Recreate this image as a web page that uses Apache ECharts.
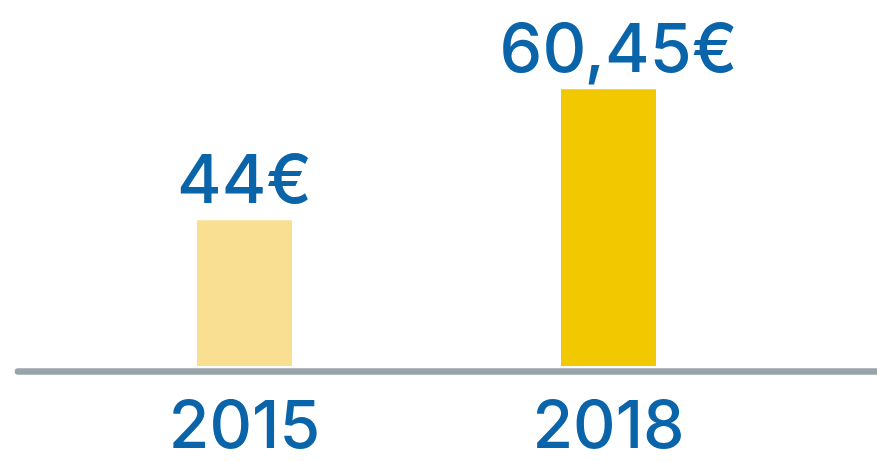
<!DOCTYPE html>
<html>
<head>
<meta charset="utf-8">
<script src="https://cdn.jsdelivr.net/npm/echarts@6/dist/echarts.min.js"></script>
<style>
  html, body { margin: 0; padding: 0; background: #fff; }
  #chart { width: 877px; height: 461px; }
</style>
</head>
<body>
<div id="chart"></div>
<script>
const years = ['2015', '2018'];
const prices = [44, 60.45];
const priceLabels = ['44€', '60,45€'];
const barColors = ['#f9df92', '#f2c900'];
const labelShiftX = [0, 10];

const blue = '#0a64aa';
const font = 'Inter';

const chart = echarts.init(document.getElementById('chart'));

chart.setOption({
    animation: false,
    grid: [
        { left: 62.5, right: 86.5, top: 13.3, bottom: 93 },
        // only for the long grey base line
        { left: 18, right: 0, top: 10, bottom: 89.5 }
    ],
    xAxis: [
        {
            type: 'category',
            gridIndex: 0,
            data: years,
            axisLine: { show: false },
            axisTick: { show: false },
            axisLabel: {
                color: blue,
                fontFamily: font,
                fontWeight: 500,
                fontSize: 66,
                margin: 29
            }
        },
        {
            type: 'value',
            gridIndex: 1,
            axisLine: { show: true, lineStyle: { color: '#97a4aa', width: 6.5 } },
            axisTick: { show: false },
            axisLabel: { show: false },
            splitLine: { show: false }
        }
    ],
    yAxis: [
        { type: 'value', gridIndex: 0, min: 25.7, max: 70, show: false },
        { type: 'value', gridIndex: 1, show: false }
    ],
    series: [
        {
            type: 'bar',
            xAxisIndex: 0,
            yAxisIndex: 0,
            barWidth: 95,
            data: prices.map((v, i) => ({
                value: v,
                itemStyle: { color: barColors[i] },
                label: { offset: [labelShiftX[i], 0] }
            })),
            label: {
                show: true,
                position: 'top',
                distance: 4,
                color: blue,
                fontFamily: font,
                fontWeight: 500,
                fontSize: 68,
                formatter: p => priceLabels[p.dataIndex]
            },
            z: 1
        }
    ]
});
</script>
</body>
</html>
